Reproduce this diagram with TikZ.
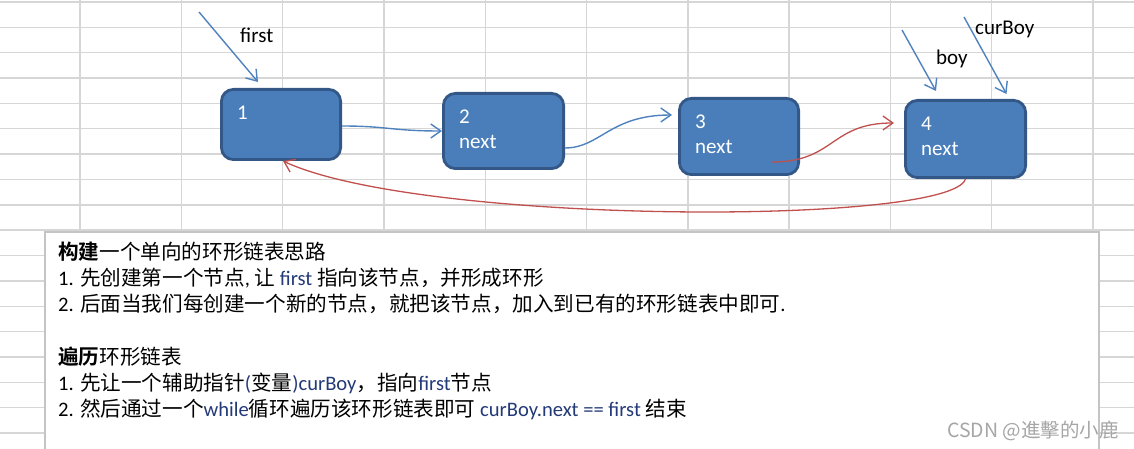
\documentclass[tikz,border=0pt]{standalone}
\usepackage{fontspec}
\setmainfont{Carlito}
\newfontfamily\cjk{Noto Sans CJK SC}[BoldFont={Noto Sans CJK SC Bold}]
\usetikzlibrary{arrows.meta}
\definecolor{boxfill}{HTML}{4A7EBB}
\definecolor{boxedge}{HTML}{335887}
\definecolor{linkblue}{HTML}{4F81BD}
\definecolor{linkred}{HTML}{C0504D}
\definecolor{gridc}{HTML}{D6D6D6}
\definecolor{tbedge}{HTML}{C4C4C4}
\definecolor{idc}{HTML}{243A78}
\definecolor{wmc}{HTML}{A6A6A6}
\newcommand\zh[1]{{\cjk #1}}
\newcommand\idt[1]{\textcolor{idc}{#1}}
\begin{document}
\begin{tikzpicture}[x=1pt,y=-1pt,
  gridline/.style={draw=gridc, line width=1.4pt},
  listnode/.style={rectangle, rounded corners=12pt, fill=boxfill, draw=boxedge, line width=2.8pt},
  nodetext/.style={anchor=north west, inner sep=0pt, text=white, align=left, font=\fontsize{21}{25}\selectfont},
  ptrlabel/.style={anchor=base west, inner sep=0pt, font=\fontsize{21}{25}\selectfont},
  bluelink/.style={draw=linkblue, line width=1.4pt, -{Straight Barb[length=10pt,width=14pt,line width=1.4pt]}},
  redlink/.style={draw=linkred, line width=1.3pt, -{Straight Barb[length=10pt,width=14pt,line width=1.3pt]}},
  textbox/.style={draw=tbedge, fill=white, line width=1.5pt, inner sep=0pt},
  boxline/.style={anchor=base west, inner sep=0pt, font=\fontsize{20.6}{25}\selectfont},
  wmark/.style={anchor=base west, inner sep=0pt, text=wmc, font=\fontsize{19.5}{22}\selectfont\cjk},
]
\useasboundingbox (0,0) rectangle (1134,449);
% spreadsheet grid
\begin{scope}
\clip (0,0) rectangle (1134,449);
\foreach \k in {0,...,10} \draw[gridline] ({80+101.3*\k},0) -- ({80+101.3*\k},449);
\foreach \k in {0,...,17} \draw[gridline] (0,{2+25.35*\k}) -- (1134,{2+25.35*\k});
\end{scope}
% text panel
\node[textbox, anchor=north west, minimum width=1054pt, minimum height=240pt] (tb) at (44,231) {};
% list nodes
\node[listnode, minimum width=119.2pt, minimum height=70.2pt] (n1) at (281,124.5) {};
\node[listnode, minimum width=120.2pt, minimum height=75.2pt] (n2) at (503.5,131) {};
\node[listnode, minimum width=119.2pt, minimum height=76.2pt] (n3) at (739,136.5) {};
\node[listnode, minimum width=120.2pt, minimum height=77.2pt] (n4) at (965.5,139) {};
\node[nodetext] (t1) at ([xshift=17pt,yshift=-18pt]n1.north west) {1};
\node[nodetext] (t2) at ([xshift=17pt,yshift=-18pt]n2.north west) {2\\next};
\node[nodetext] (t3) at ([xshift=17pt,yshift=-18pt]n3.north west) {3\\next};
\node[nodetext] (t4) at ([xshift=17pt,yshift=-18pt]n4.north west) {4\\next};
% pointer labels
\node[ptrlabel] (lfirst) at (240,42.5) {first};
\node[ptrlabel] (lboy) at (936,65) {boy};
\node[ptrlabel] (lcur) at (975,35) {curBoy};
\coordinate (fa) at (199,12);
\coordinate (ba) at (902,30);
\coordinate (ca) at (964,17);
\draw[bluelink] (fa) -- ([xshift=-23pt,yshift=6pt]n1.north);
\draw[bluelink] (ba) -- ([xshift=-29.5pt,yshift=8pt]n4.north);
\draw[bluelink] (ca) -- ([xshift=41pt,yshift=5pt]n4.north);
% links
\draw[bluelink] ([yshift=-1.5pt]n1.east) .. controls +(45,0) and +(-50,0) .. (n2.west);
\draw[bluelink] ([yshift=-17pt]n2.east) .. controls +(35,0) and +(-62,0) .. ([xshift=-6pt,yshift=21.5pt]n3.west);
\draw[redlink] ([xshift=33pt,yshift=14pt]n3.south) .. controls +(63,0) and +(-64,0) .. ([xshift=-10pt,yshift=16pt]n4.west);
\draw[redlink] (n4.south) .. controls +(-15,47) and +(137,64) .. ([xshift=2pt]n1.south);
% text lines
\node[boxline] (l1) at (58,259) {\zh{\textbf{构建}一个单向的环形链表思路}};
\node[boxline] (l2) at (58,285.3) {1. \zh{先创建第一个节点}, \zh{让} \idt{first} \zh{指向该节点，并形成环形}};
\node[boxline] (l3) at (58,311.6) {2. \zh{后面当我们每创建一个新的节点，就把该节点，加入到已有的环形链表中即可}.};
\node[boxline] (l5) at (58,364.2) {\zh{\textbf{遍历}环形链表}};
\node[boxline] (l6) at (58,390.5) {1. \zh{先让一个辅助指针}\idt{(}\zh{变量}\idt{)curBoy}\zh{，指向}\idt{first}\zh{节点}};
\node[boxline] (l7) at (58,416.8) {2. \zh{然后通过一个}\idt{while}\zh{循环遍历该环形链表即可} \idt{curBoy.next == first} \zh{结束}};
\node[wmark] (wm) at (947,437.5) {CSDN @進擊的小鹿};
\end{tikzpicture}
\end{document}
